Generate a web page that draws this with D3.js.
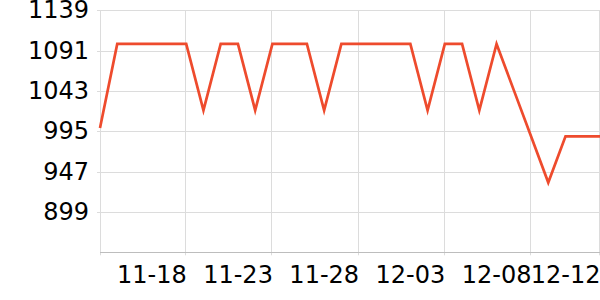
<!DOCTYPE html>
<html>
<head>
<meta charset="utf-8">
<script src="https://cdn.jsdelivr.net/npm/d3@7"></script>
<style>
  body { margin: 0; background: #fff; }
  text { font-family: "DejaVu Sans", sans-serif; }
</style>
</head>
<body>
<div id="viz_container"></div>
<script>
// data
const dates = ["11-13","11-14","11-15","11-16","11-17","11-18","11-19","11-20","11-21","11-22",
  "11-23","11-24","11-25","11-26","11-27","11-28","11-29","11-30","12-01","12-02",
  "12-03","12-04","12-05","12-06","12-07","12-08","12-09","12-10","12-11","12-12"];
const values = [999,1099,1099,1099,1099,1099,1020,1099,1099,1020,
  1099,1099,1099,1020,1099,1099,1099,1099,1099,1020,
  1099,1099,1020,1099,1044,989,934,989,989,989];
const xGridDates = ["11-13","11-18","11-23","11-28","12-03","12-08","12-12"];
const xLabelDates = ["11-18","11-23","11-28","12-03","12-08","12-12"];
const yTicks = [899,947,995,1043,1091,1139];
const yDomain = [851,1139];

const drawChart = () => {
  const width = 600, height = 300;
  const margin = {left: 100, right: 0, top: 10, bottom: 48};

  const svg = d3.select("#viz_container")
    .append("svg")
    .attr("width", width)
    .attr("height", height);

  const x = d3.scalePoint()
    .domain(dates)
    .range([margin.left, width - margin.right]);

  const y = d3.scaleLinear()
    .domain(yDomain)
    .range([height - margin.bottom + 0.3, margin.top + 0.3]);

  // horizontal grid + small ticks on the left
  svg.append("g")
    .selectAll("line")
    .data(yTicks)
    .join("line")
    .attr("x1", margin.left - 3)
    .attr("x2", width)
    .attr("y1", d => Math.round(y(d)) + 0.5)
    .attr("y2", d => Math.round(y(d)) + 0.5)
    .attr("stroke", "#dcdcdc")
    .attr("stroke-width", 1);

  // vertical grid
  svg.append("g")
    .selectAll("line")
    .data(xGridDates)
    .join("line")
    .attr("x1", d => Math.round(x(d)) - 0.5 + (d === dates[0] ? 1 : 0))
    .attr("x2", d => Math.round(x(d)) - 0.5 + (d === dates[0] ? 1 : 0))
    .attr("y1", y(yDomain[1]))
    .attr("y2", y(yDomain[0]) + 3)
    .attr("stroke", "#dcdcdc")
    .attr("stroke-width", 1);

  // bottom axis line
  svg.append("line")
    .attr("x1", margin.left)
    .attr("x2", width)
    .attr("y1", Math.round(y(yDomain[0])) + 0.5)
    .attr("y2", Math.round(y(yDomain[0])) + 0.5)
    .attr("stroke", "#bdbdbd")
    .attr("stroke-width", 1);

  // y labels
  svg.append("g")
    .selectAll("text")
    .data(yTicks)
    .join("text")
    .attr("x", 89)
    .attr("y", d => y(d))
    .attr("text-anchor", "end")
    .attr("dominant-baseline", "central")
    .style("font-size", "24px")
    .style("fill", "#000")
    .text(d => d);

  // x labels, right aligned to their tick
  svg.append("g")
    .selectAll("text")
    .data(xLabelDates)
    .join("text")
    .attr("x", d => x(d) + 0.5)
    .attr("y", 283)
    .attr("text-anchor", "end")
    .style("font-size", "24px")
    .style("fill", "#000")
    .text(d => d);

  // the series
  const line = d3.line()
    .x((d, i) => x(dates[i]))
    .y(d => y(d));

  svg.append("path")
    .datum(values)
    .attr("d", line)
    .attr("fill", "none")
    .attr("stroke", "#ee4b2d")
    .attr("stroke-width", 2.7);
};

drawChart();
</script>
</body>
</html>
